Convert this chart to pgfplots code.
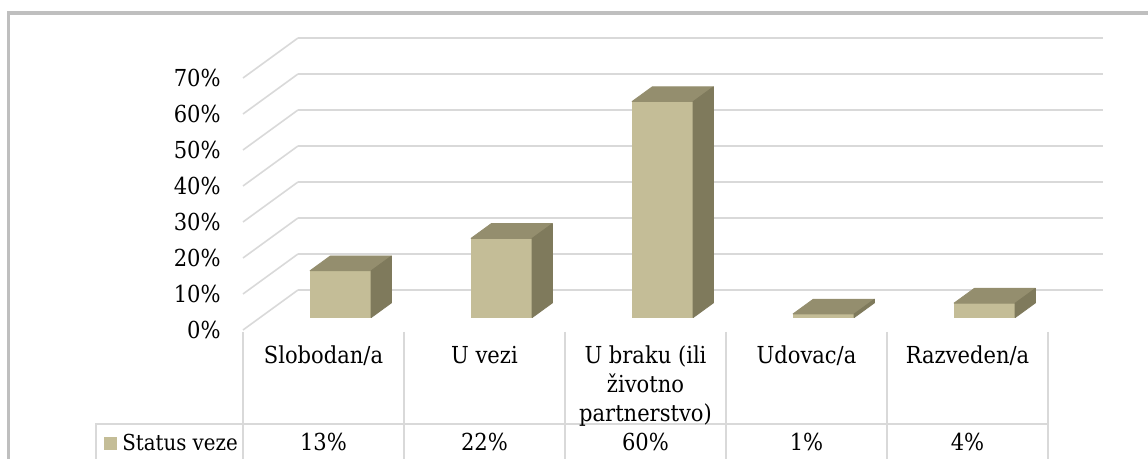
\documentclass[border=0pt]{standalone}
\usepackage{pgfplots}
\pgfplotsset{compat=1.18}
\usepackage{fontspec}
\setmainfont{DejaVu Serif Condensed}
\definecolor{fc}{HTML}{C4BD97}
\definecolor{tc}{HTML}{948E6E}
\definecolor{sc}{HTML}{7F7A5C}
\definecolor{gc}{HTML}{D9D9D9}
\definecolor{bc}{HTML}{BFBFBF}
\pgfplotsset{
  colormap={cfront}{color=(fc) color=(fc)},
  colormap={ctop}{color=(tc) color=(tc)},
  colormap={cside}{color=(sc) color=(sc)},
}
\begin{document}
\begin{tikzpicture}
\begin{axis}[
  x={(80.5pt,0pt)}, y={(27.5pt,20pt)}, z={(0pt,1.8pt)},
  xmin=0, xmax=5, ymin=0, ymax=1, zmin=0, zmax=70,
  enlargelimits=false, clip=false,
  xtick=\empty, ytick=\empty, ztick={0,10,...,70}, zticklabels={},
  zmajorgrids=true, major grid style={gc, line width=0.8pt},
  axis line style={draw=none}, major tick length=0pt,
  point meta min=0, point meta max=1,
  font=\fontsize{11.7}{14.5}\selectfont,
]
% front faces
\addplot3[patch, patch type=rectangle, shader=flat, colormap name=cfront, point meta=0] coordinates {
 (0.31,0.31,0) (0.69,0.31,0) (0.69,0.31,13) (0.31,0.31,13)
 (1.31,0.31,0) (1.69,0.31,0) (1.69,0.31,22) (1.31,0.31,22)
 (2.31,0.31,0) (2.69,0.31,0) (2.69,0.31,60) (2.31,0.31,60)
 (3.31,0.31,0) (3.69,0.31,0) (3.69,0.31,1) (3.31,0.31,1)
 (4.31,0.31,0) (4.69,0.31,0) (4.69,0.31,4) (4.31,0.31,4)
};
% top faces
\addplot3[patch, patch type=rectangle, shader=flat, colormap name=ctop, point meta=0] coordinates {
 (0.31,0.31,13) (0.69,0.31,13) (0.69,0.68,13) (0.31,0.68,13)
 (1.31,0.31,22) (1.69,0.31,22) (1.69,0.68,22) (1.31,0.68,22)
 (2.31,0.31,60) (2.69,0.31,60) (2.69,0.68,60) (2.31,0.68,60)
 (3.31,0.31,1) (3.69,0.31,1) (3.69,0.68,1) (3.31,0.68,1)
 (4.31,0.31,4) (4.69,0.31,4) (4.69,0.68,4) (4.31,0.68,4)
};
% side faces
\addplot3[patch, patch type=rectangle, shader=flat, colormap name=cside, point meta=0] coordinates {
 (0.69,0.31,0) (0.69,0.68,0) (0.69,0.68,13) (0.69,0.31,13)
 (1.69,0.31,0) (1.69,0.68,0) (1.69,0.68,22) (1.69,0.31,22)
 (2.69,0.31,0) (2.69,0.68,0) (2.69,0.68,60) (2.69,0.31,60)
 (3.69,0.31,0) (3.69,0.68,0) (3.69,0.68,1) (3.69,0.31,1)
 (4.69,0.31,0) (4.69,0.68,0) (4.69,0.68,4) (4.69,0.31,4)
};
% z tick labels
\pgfplotsinvokeforeach{0,10,...,70}{
  \node[anchor=east, inner sep=0pt, xshift=-11pt] at (axis cs:0,0,#1) {#1\%};
}
% table lines
\pgfplotsinvokeforeach{0,1,2,3,4,5}{
  \draw[gc, line width=0.8pt] (axis cs:#1,0,-0.5) -- (axis cs:#1,0,-40);
}
\draw[gc, line width=0.8pt] (axis cs:-0.913,0,-40) -- (axis cs:-0.913,0,-26.1) -- (axis cs:5,0,-26.1);
% header texts
\node[anchor=base, inner sep=0pt] at (axis cs:0.5,0,-9.25) {Slobodan/a};
\node[anchor=base, inner sep=0pt] at (axis cs:1.5,0,-9.25) {U vezi};
\node[anchor=base, inner sep=0pt] at (axis cs:2.5,0,-9.25) {U braku (ili};
\node[anchor=base, inner sep=0pt] at (axis cs:2.5,0,-17.3) {životno};
\node[anchor=base, inner sep=0pt] at (axis cs:2.5,0,-25.4) {partnerstvo)};
\node[anchor=base, inner sep=0pt] at (axis cs:3.5,0,-9.25) {Udovac/a};
\node[anchor=base, inner sep=0pt] at (axis cs:4.5,0,-9.25) {Razveden/a};
% data row
\node[anchor=base, inner sep=0pt] at (axis cs:0.5,0,-33.6) {13\%};
\node[anchor=base, inner sep=0pt] at (axis cs:1.5,0,-33.6) {22\%};
\node[anchor=base, inner sep=0pt] at (axis cs:2.5,0,-33.6) {60\%};
\node[anchor=base, inner sep=0pt] at (axis cs:3.5,0,-33.6) {1\%};
\node[anchor=base, inner sep=0pt] at (axis cs:4.5,0,-33.6) {4\%};
% legend key
\node[fill=fc, inner sep=0pt, minimum size=6.5pt] at (axis cs:-0.823,0,-31.4) {};
\node[anchor=base west, inner sep=0pt, font=\fontsize{11}{13}\selectfont] at (axis cs:-0.752,0,-33.6) {Status veze};
% outer border
\draw[bc, line width=1.75pt] (axis cs:6,0,88) -- (axis cs:-1.4565,0,88) -- (axis cs:-1.4565,0,-50);
\coordinate (BL) at (axis cs:-1.50932,0,-35.8333);
\coordinate (TR) at (axis cs:5.62112,0,91.6667);
\end{axis}
\pgfresetboundingbox
\path[use as bounding box] (BL) rectangle (TR);
\end{tikzpicture}
\end{document}
